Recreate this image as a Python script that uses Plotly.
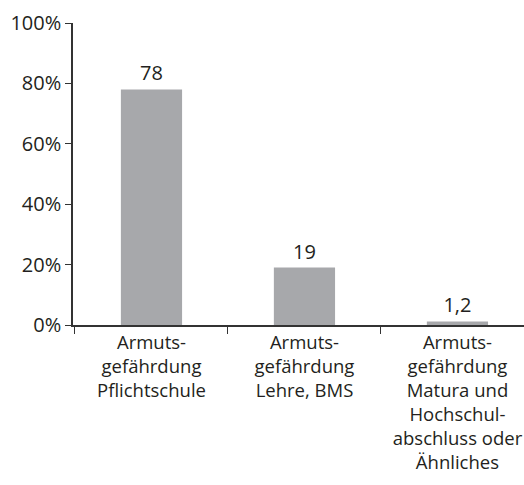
import plotly.graph_objects as go

categories = [
    "Armuts-<br>gefährdung<br>Pflichtschule",
    "Armuts-<br>gefährdung<br>Lehre, BMS",
    "Armuts-<br>gefährdung<br>Matura und<br>Hochschul-<br>abschluss oder<br>Ähnliches",
]
values = [78, 19, 1.2]
value_labels = ["78", "19", "1,2"]
y_ticks = [0, 20, 40, 60, 80, 100]
y_tick_labels = ["0%", "20%", "40%", "60%", "80%", "100%"]

FONT = "Open Sans"
TXT = "#231f20"
AX = "#333333"

fig = go.Figure(
    go.Bar(
        x=categories,
        y=values,
        text=value_labels,
        textposition="outside",
        textfont=dict(family=FONT, size=20, color=TXT),
        marker=dict(color="#a7a8ab", line=dict(width=0)),
        cliponaxis=False,
        width=0.4,
    )
)

fig.update_layout(
    width=524,
    height=485,
    margin=dict(l=73, r=0, t=23, b=160, autoexpand=False),
    paper_bgcolor="white",
    plot_bgcolor="white",
    showlegend=False,
    font=dict(family=FONT, size=18.5, color=TXT),
    xaxis=dict(
        range=[-0.513, 2.435],
        automargin=False,
        showline=True,
        linecolor=AX,
        linewidth=1.5,
        ticks="outside",
        tickson="boundaries",
        ticklen=7,
        tickcolor=AX,
        tickwidth=1.2,
        tickfont=dict(family=FONT, size=18.5, color=TXT),
        showgrid=False,
        zeroline=False,
        fixedrange=True,
    ),
    yaxis=dict(
        range=[0, 100],
        automargin=False,
        tickvals=y_ticks,
        ticktext=y_tick_labels,
        showline=True,
        linecolor=AX,
        linewidth=1.5,
        ticks="outside",
        ticklen=6,
        tickcolor=AX,
        tickwidth=1.2,
        tickfont=dict(family=FONT, size=20, color=TXT),
        showgrid=False,
        zeroline=False,
        fixedrange=True,
    ),
)

fig.write_html(
    "out.html",
    config={"displayModeBar": False},
    post_script="document.body.style.margin='0';document.body.style.overflow='hidden';",
)
